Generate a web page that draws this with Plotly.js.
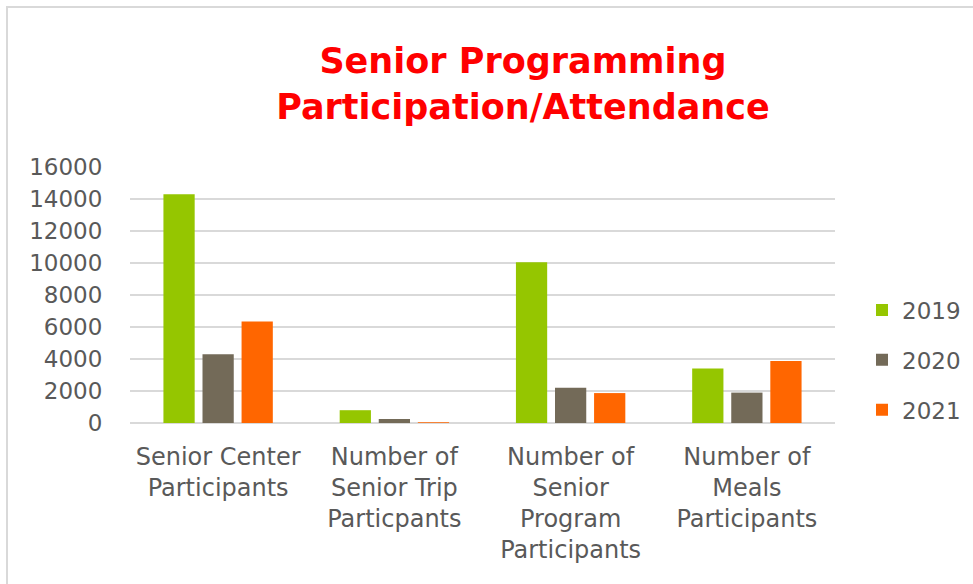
<!DOCTYPE html>
<html>
<head>
<meta charset="utf-8">
<script src="https://cdn.plot.ly/plotly-3.0.1.min.js"></script>
<style>
  html, body { margin: 0; padding: 0; background: #ffffff; overflow: hidden; }
  #chart { width: 973px; height: 584px; position: absolute; left: 0; top: 0; }
  #frame { position: absolute; left: 6px; top: 6px; width: 1200px; height: 1200px;
           border-left: 2px solid #d9d9d9; border-top: 2px solid #d9d9d9; pointer-events: none; }
</style>
</head>
<body>
<div id="chart"></div>
<div id="frame"></div>
<script>
const categories = [
  "Senior Center<br>Participants",
  "Number of<br>Senior Trip<br>Particpants",
  "Number of<br>Senior<br>Program<br>Participants",
  "Number of<br>Meals<br>Participants"
];
const seriesNames = ["2019", "2020", "2021"];
const values2019 = [14300, 800, 10050, 3400];
const values2020 = [4300, 250, 2200, 1900];
const values2021 = [6350, 50, 1870, 3870];
const yTicks = [0, 2000, 4000, 6000, 8000, 10000, 12000, 14000, 16000];
const colors = ["#95C600", "#736A58", "#FF6600"];

const allValues = [values2019, values2020, values2021];
const font = "'DejaVu Sans', sans-serif";

const traces = allValues.map((vals, i) => ({
  type: "bar",
  name: seriesNames[i],
  x: categories,
  y: vals,
  marker: { color: colors[i] },
  legendgroup: "g" + i,
  hoverinfo: "x+y+name"
}));

const layout = {
  width: 973,
  height: 584,
  paper_bgcolor: "#ffffff",
  plot_bgcolor: "#ffffff",
  margin: { l: 130, r: 138, t: 167, b: 161, pad: 0, autoexpand: false },
  barmode: "group",
  bargap: 0.335,
  bargroupgap: 0.2,
  title: {
    text: "<b>Senior Programming<br>Participation/Attendance</b>",
    font: { family: font, size: 35, color: "#FF0000" },
    x: 0.5375,
    xref: "container",
    xanchor: "center",
    y: 1 - 73 / 584,
    yref: "container",
    yanchor: "top"
  },
  xaxis: {
    type: "category",
    tickfont: { family: font, size: 24, color: "#595959" },
    ticks: "outside",
    ticklen: 12,
    tickcolor: "rgba(0,0,0,0)",
    showline: false,
    showgrid: false,
    zeroline: false,
    tickangle: 0
  },
  yaxis: {
    range: [0, 16000],
    tickvals: yTicks,
    ticktext: yTicks.map(String),
    tickfont: { family: font, size: 23, color: "#595959" },
    ticks: "outside",
    ticklen: 22,
    tickcolor: "rgba(0,0,0,0)",
    showgrid: true,
    gridcolor: "#d9d9d9",
    gridwidth: 1.5,
    zeroline: true,
    zerolinecolor: "#d9d9d9",
    zerolinewidth: 1.5,
    showline: false
  },
  showlegend: true,
  legend: {
    x: (862 - 130) / 705,
    xanchor: "left",
    y: (423 - 360) / 256,
    yanchor: "middle",
    font: { family: font, size: 23, color: "#595959" },
    traceorder: "grouped",
    tracegroupgap: 17,
    bgcolor: "rgba(0,0,0,0)"
  }
};

Plotly.newPlot("chart", traces, layout, { displayModeBar: false, staticPlot: true });
</script>
</body>
</html>
